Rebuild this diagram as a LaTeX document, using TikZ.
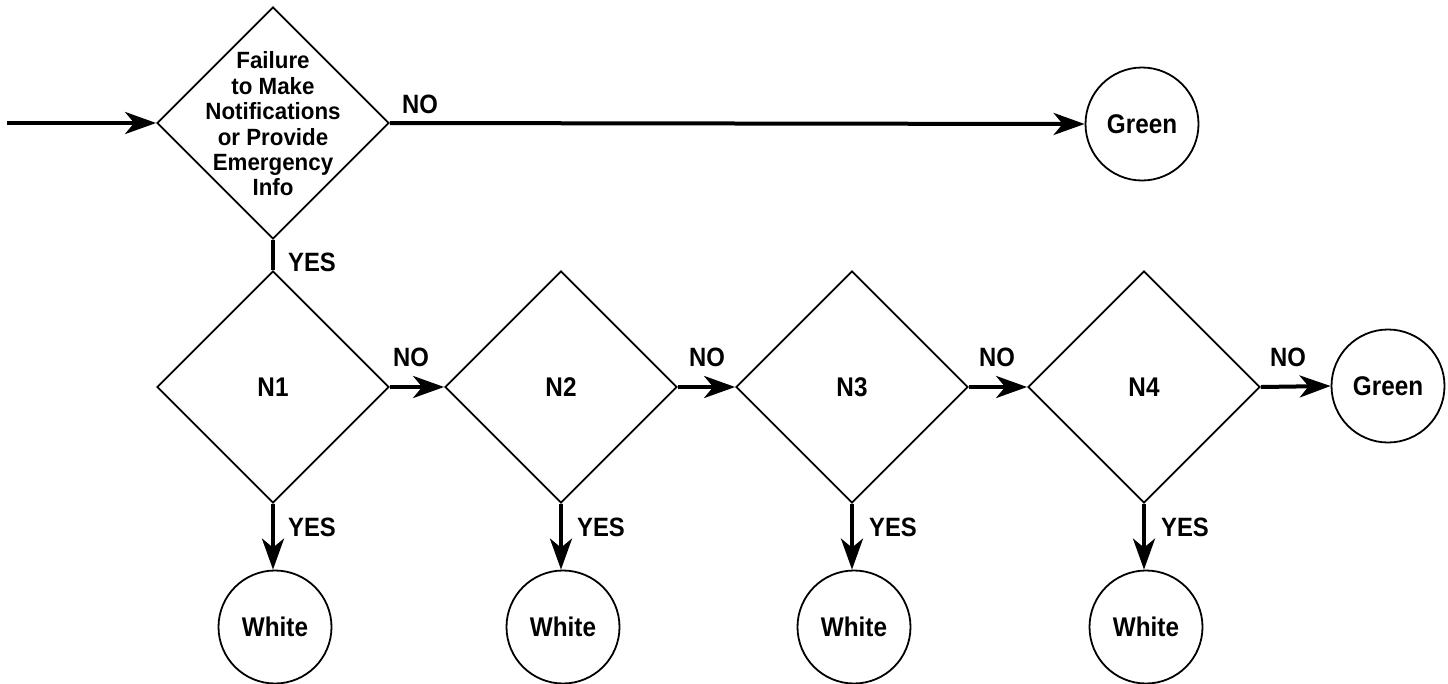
\documentclass[tikz,border=0pt]{standalone}
\usepackage{fontspec}
\setmainfont{Liberation Sans}
\newfontfamily\hvn[FakeStretch=0.9]{Liberation Sans}
\newfontfamily\hvd[FakeStretch=0.95]{Liberation Sans}
\usetikzlibrary{shapes.geometric,arrows.meta}
\begin{document}
\begin{tikzpicture}[x=1pt,y=-1pt,
  dia/.style={draw, line width=1.8pt, shape=diamond, minimum width=232pt, minimum height=232pt, inner sep=0pt, font=\hvn\fontsize{27}{28}\selectfont\bfseries},
  endc/.style={draw, line width=1.8pt, circle, minimum size=113pt, inner sep=0pt, font=\hvn\fontsize{27}{28}\selectfont\bfseries},
  conn/.style={line width=4pt, -{Stealth[length=31pt, width=22pt, inset=9pt]}},
  plain/.style={line width=4pt},
  lbl/.style={font=\hvn\fontsize{26.5}{28}\selectfont\bfseries, inner sep=0pt},
  dtext/.style={font=\hvd\fontsize{23.5}{25.4}\selectfont\bfseries, align=center, inner sep=0pt}]
\useasboundingbox (0,0) rectangle (1448,683);
\node[dia] (d0) at (273,123) {};
\node[dtext] (t0) at (273,124) {Failure\\to Make\\Notifications\\or Provide\\Emergency\\Info};
\node[endc] (g0) at (1142,124) {Green};
\node[dia] (d1) at (273,387) {N1};
\node[dia] (d2) at (561,387) {N2};
\node[dia] (d3) at (852,387) {N3};
\node[dia] (d4) at (1144,387) {N4};
\node[endc] (g1) at (1388,386) {Green};
\node[endc] (w1) at (275,627) {White};
\node[endc] (w2) at (563,627) {White};
\node[endc] (w3) at (854,627) {White};
\node[endc] (w4) at (1146,627) {White};
\coordinate (start) at (7,123);
\draw[conn] (start) -- (d0.west);
\draw[conn] (d0.east) -- (g0.west);
\draw[plain] (d0.south) -- (d1.north);
\draw[conn] (d1.east) -- (d2.west);
\draw[conn] (d2.east) -- (d3.west);
\draw[conn] (d3.east) -- (d4.west);
\draw[conn] (d4.east) -- (g1.west);
\draw[conn] (d1.south) -- (d1.south |- w1.north);
\draw[conn] (d2.south) -- (d2.south |- w2.north);
\draw[conn] (d3.south) -- (d3.south |- w3.north);
\draw[conn] (d4.south) -- (d4.south |- w4.north);
\node[lbl] (n0) at (420,104) {NO};
\node[lbl] (y0) at (312,262) {YES};
\node[lbl] (n1) at (411,357) {NO};
\node[lbl] (n2) at (707,357) {NO};
\node[lbl] (n3) at (997,357) {NO};
\node[lbl] (n4) at (1288,357) {NO};
\node[lbl] (y1) at (312,527) {YES};
\node[lbl] (y2) at (601,527) {YES};
\node[lbl] (y3) at (893,527) {YES};
\node[lbl] (y4) at (1185,527) {YES};
\end{tikzpicture}
\end{document}
